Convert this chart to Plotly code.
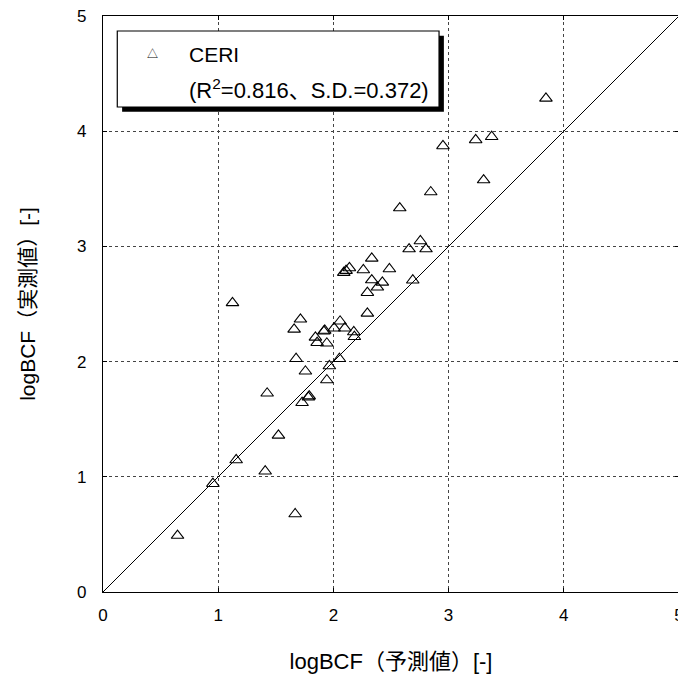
import plotly.graph_objects as go

# Data
pred = [0.647, 0.954, 1.156, 1.408, 1.668, 1.523, 1.425, 1.728, 1.783, 1.790,
        1.757, 1.943, 1.965, 1.676, 2.052, 1.124, 1.714, 1.659, 1.844, 1.917,
        1.925, 1.859, 1.943, 2.006, 2.058, 2.099, 2.177, 2.182, 2.295, 2.295,
        2.333, 2.382, 2.425, 2.260, 2.486, 2.333, 2.090, 2.110, 2.139, 2.689,
        2.657, 2.755, 2.804, 2.576, 2.845, 2.951, 3.235, 3.374, 3.304, 3.845]
meas = [0.490, 0.940, 1.146, 1.048, 0.677, 1.360, 1.725, 1.643, 1.690, 1.700,
        1.916, 1.840, 1.962, 2.025, 2.025, 2.510, 2.367, 2.280, 2.210, 2.263,
        2.270, 2.164, 2.159, 2.290, 2.350, 2.290, 2.257, 2.216, 2.419, 2.598,
        2.708, 2.645, 2.688, 2.795, 2.804, 2.896, 2.772, 2.790, 2.813, 2.706,
        2.977, 3.047, 2.977, 3.333, 3.472, 3.872, 3.924, 3.952, 3.576, 4.285]
line_x = [0, 5]
line_y = [0, 5]
tick_vals = [0, 1, 2, 3, 4, 5]
series_name = "CERI"
stats_text = "(R<sup>2</sup>=0.816、S.D.=0.372)"
x_title = "logBCF（予測値）[-]"
y_title = "logBCF（実測値）[-]"

FONT = "Liberation Sans, Noto Sans CJK JP, sans-serif"

fig = go.Figure()
fig.add_trace(go.Scatter(x=line_x, y=line_y, mode="lines",
                         line=dict(color="black", width=1), showlegend=False,
                         hoverinfo="skip"))
fig.add_trace(go.Scatter(x=pred, y=meas, mode="markers", name=series_name,
                         marker=dict(symbol="triangle-up-open", size=11,
                                     color="black", line=dict(width=1.1))))

# legend box (shadow + white box)
bx0, bx1, by0, by1 = 0.124, 2.917, 4.21, 4.87
sh = 0.042
fig.add_shape(type="rect", x0=bx0 + sh, x1=bx1 + sh, y0=by0 - sh, y1=by1 - sh,
              xref="x", yref="y", fillcolor="black", line=dict(width=0), layer="above")
fig.add_shape(type="rect", x0=bx0, x1=bx1, y0=by0, y1=by1,
              xref="x", yref="y", fillcolor="white", line=dict(color="black", width=1.2),
              layer="above")
fig.add_annotation(x=0.428, y=4.67, xref="x", yref="y", text="△", showarrow=False,
                   font=dict(size=11, color="black", family=FONT))
fig.add_annotation(x=0.73, y=4.67, xref="x", yref="y", text=series_name, showarrow=False,
                   xanchor="left", font=dict(size=21, color="black", family=FONT))
fig.add_annotation(x=0.73, y=4.37, xref="x", yref="y", text=stats_text, showarrow=False,
                   xanchor="left", font=dict(size=22, color="black", family=FONT))

axis_common = dict(range=[0, 5], tickvals=tick_vals, showgrid=True,
                   gridcolor="#444444", griddash="3px,3px", gridwidth=1,
                   showline=True, linecolor="black", linewidth=1.3, mirror="ticks",
                   ticks="inside", ticklen=4, tickcolor="black", zeroline=False,
                   fixedrange=True, automargin=False, ticklabeloverflow="allow")

fig.update_xaxes(**axis_common,
                 tickfont=dict(size=17, color="black", family=FONT),
                 ticklabelstandoff=7,
                 title=dict(text=x_title,
                            font=dict(size=22, color="black", family=FONT),
                            standoff=31))
fig.update_yaxes(**axis_common,
                 tickfont=dict(size=17, color="black", family=FONT),
                 ticklabelstandoff=12,
                 title=dict(text=y_title,
                            font=dict(size=21, color="black", family=FONT),
                            standoff=35))

# the page body has an 8px margin: offset the figure so the plot area lands
# at the reference position inside the 686x682 window (no vertical overflow)
fig.update_layout(width=686, height=666, showlegend=False,
                  plot_bgcolor="white", paper_bgcolor="white",
                  margin=dict(l=95, r=15, t=8, b=82))

fig.write_html("out.html")
